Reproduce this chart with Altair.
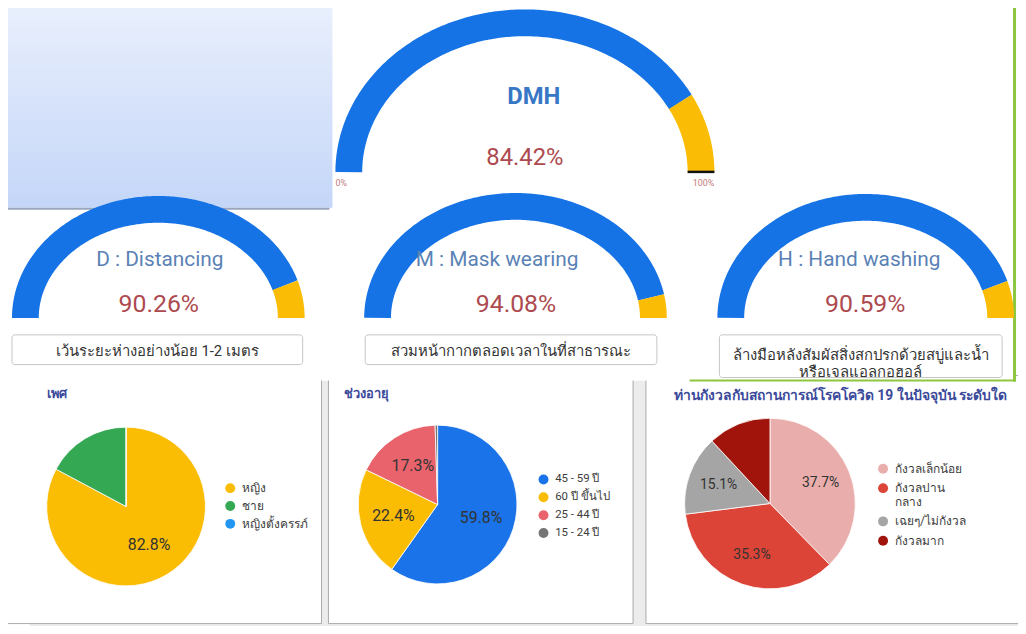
import math
import altair as alt
import pandas as pd

# ---------------- data ----------------
gauge_names = ["DMH", "D : Distancing", "M : Mask wearing", "H : Hand washing"]
gauge_values = [84.42, 90.26, 94.08, 90.59]
gauge_captions = ["",
                  "เว้นระยะห่างอย่างน้อย 1-2 เมตร",
                  "สวมหน้ากากตลอดเวลาในที่สาธารณะ",
                  "ล้างมือหลังสัมผัสสิ่งสกปรกด้วยสบู่และน้ำ\nหรือเจลแอลกอฮอล์"]
gauge_ends = ["0%", "100%"]

panel_titles = ["เพศ", "ช่วงอายุ", "ท่านกังวลกับสถานการณ์โรคโควิด 19 ในปัจจุบัน ระดับใด"]

sex_cats = ["หญิง", "ชาย", "หญิงตั้งครรภ์"]
sex_vals = [82.8, 17.2, 0.0]
sex_shown = ["82.8%", "", ""]

age_cats = ["45 - 59 ปี", "60 ปี ขึ้นไป", "25 - 44 ปี", "15 - 24 ปี"]
age_vals = [59.8, 22.4, 17.3, 0.5]
age_shown = ["59.8%", "22.4%", "17.3%", ""]

worry_cats = ["กังวลเล็กน้อย", "กังวลปานกลาง", "เฉยๆ/ไม่กังวล", "กังวลมาก"]
worry_vals = [37.7, 35.3, 15.1, 11.9]
worry_shown = ["37.7%", "35.3%", "15.1%", ""]

# ---------------- styles ----------------
BLUE = "#1673e6"
YELLOW = "#fbbc05"
VAL_COLOR = "#ad4a4f"
TITLE_COLOR = "#5a82b5"
sex_colors = ["#fbbc04", "#34a853", "#2196f3"]
age_colors = ["#1a73e8", "#fbbc04", "#e8636c", "#757575"]
worry_colors = ["#e9aeab", "#db4437", "#a5a5a5", "#a0140c"]
FONT = "Roboto"
OFF = 8


def px(v):
    return v - OFF


ONE = alt.Data(values=[{"k": 0}])


def rect(x0, x1, y0, y1, **kw):
    return alt.Chart(ONE).mark_rect(**kw).encode(
        x=alt.value(px(x0)), x2=alt.value(px(x1)),
        y=alt.value(px(y0)), y2=alt.value(px(y1)))


def text(s, x, y, **kw):
    kw.setdefault("font", FONT)
    return alt.Chart(pd.DataFrame({"t": [s]})).mark_text(lineBreak="\n", **kw).encode(
        x=alt.value(px(x)), y=alt.value(px(y)), text="t:N")


def gauge(value, cx, a_out, top, cut, thick=27):
    a = a_out - thick / 2
    b = (cut - top) - thick / 2
    xs = alt.Scale(domain=[-1, 1], range=[px(cx) - a, px(cx) + a], nice=False, zero=False)
    ys = alt.Scale(domain=[0, 1], range=[px(cut), px(cut) - b], nice=False, zero=False)
    out = []
    for f0, f1, col in [(0, value, BLUE), (value, 100, YELLOW)]:
        ch = (alt.Chart(alt.sequence(0, 201, 1, as_="k"))
              .transform_calculate(f=f"({f0} + ({f1} - {f0}) * datum.k / 200) / 100")
              .transform_calculate(ux="cos(PI * (1 - datum.f))", uy="sin(PI * (1 - datum.f))")
              .mark_line(color=col, strokeWidth=thick, strokeCap="butt", strokeJoin="round")
              .encode(x=alt.X("ux:Q", scale=xs, axis=None),
                      y=alt.Y("uy:Q", scale=ys, axis=None),
                      order="k:Q"))
        out.append(ch)
    return out


def pie(cats, vals, shown, colors, cx, cy, r, lab_r, lab_size, legend_kw):
    df = pd.DataFrame({"cat": cats, "v": vals, "lab": shown, "i": list(range(len(cats)))})
    base = alt.Chart(df).encode(
        theta=alt.Theta("v:Q", stack=True),
        order=alt.Order("i:Q"),
        x=alt.value(px(cx)), y=alt.value(px(cy)))
    lk = dict(orient="none", symbolType="circle", symbolSize=100, symbolStrokeWidth=0,
              labelFont=FONT, labelColor="#3c3c3c", labelOffset=6, padding=0,
              title=None)
    lk.update(legend_kw)
    arc = base.mark_arc(radius=r, stroke="white", strokeWidth=0.8).encode(
        color=alt.Color("cat:N", scale=alt.Scale(domain=cats, range=colors), sort=cats,
                        legend=alt.Legend(**lk)))
    txt = base.mark_text(radius=lab_r, fontSize=lab_size, color="#333333", font=FONT).encode(
        text="lab:N", detail="cat:N")
    return [arc, txt]


layers = []

# bottom area background and panels
layers.append(rect(30, 1040, 381, 640, color="#ececec"))
layers.append(rect(-20, 324, 376, 626, fill="white", stroke="#aaaaaa", strokeWidth=1))
layers.append(rect(331, 638, 376, 626, fill="white", stroke="#aaaaaa", strokeWidth=1))
layers.append(rect(651, 1040, 376, 626, fill="white", stroke="#aaaaaa", strokeWidth=1))
layers.append(rect(-20, 1021, -20, 381, color="white"))

# decorative borders
layers.append(rect(1021, 1024, -20, 382, color="#8dc63f"))
layers.append(rect(695, 1024, 380, 382, color="#8dc63f"))
layers.append(rect(-20, 335, -20, 207, color=alt.LinearGradient(
    gradient="linear", x1=0, x2=0, y1=0, y2=1,
    stops=[alt.GradientStop(color="#edf2fd", offset=0),
           alt.GradientStop(color="#c4d6f8", offset=1)])))
layers.append(rect(-20, 332, 207, 209, color="#9aa6bb"))

# gauges
layers += gauge(gauge_values[0], 529, 191, 7, 171)
layers += gauge(gauge_values[1], 159.5, 147.5, 195, 318)
layers += gauge(gauge_values[2], 519.5, 152.5, 192, 318)
layers += gauge(gauge_values[3], 872.5, 149.5, 193, 318)
layers.append(rect(693, 720, 169.5, 172, color="#111111"))

# gauge texts
layers.append(text(gauge_names[0], 538, 95, fontSize=24, fontWeight="bold", color="#3877c5"))
layers.append(text(f"{gauge_values[0]:.2f}%", 529, 157, fontSize=24, color=VAL_COLOR))
layers.append(text(gauge_ends[0], 338, 182, fontSize=9, align="left", color="#c27a7a"))
layers.append(text(gauge_ends[1], 720, 182, fontSize=9, align="right", color="#c27a7a"))

title_pos = [(161, 260), (501, 260), (866, 260)]
val_pos = [(160, 304), (520, 304), (872, 304)]
for k in range(3):
    layers.append(text(gauge_names[k + 1], *title_pos[k], fontSize=21, color=TITLE_COLOR))
    layers.append(text(f"{gauge_values[k + 1]:.2f}%", *val_pos[k], fontSize=25, color=VAL_COLOR))

# caption boxes
boxes = [(12, 305, 335, 365), (368, 662, 335, 365), (725, 1010, 335, 378)]
cap_y = [351, 351, 355]
for k, (x0, x1, y0, y1) in enumerate(boxes):
    layers.append(rect(x0, x1, y0, y1, fill="white", stroke="#c4c4c4", strokeWidth=1,
                       cornerRadius=3))
    layers.append(text(gauge_captions[k + 1], (x0 + x1) / 2, cap_y[k],
                       fontSize=15, color="#333333", lineHeight=17))

# panel titles
for s, (x, y), fs in zip(panel_titles, [(47, 395), (347, 395), (679, 397)], [13, 13, 14]):
    layers.append(text(s, x, y, fontSize=fs, fontWeight="bold", align="left", color="#3b4a9a"))

# pies
layers += pie(sex_cats, sex_vals, sex_shown, sex_colors, 127, 508, 80, 45, 16,
              dict(legendX=px(226), legendY=px(483.5), labelFontSize=12, rowPadding=6))
layers += pie(age_cats, age_vals, age_shown, age_colors, 441, 506, 80, 46, 16,
              dict(legendX=px(542), legendY=px(475), labelFontSize=11.5, rowPadding=5))
wrap_target = worry_cats[1]
layers += pie(worry_cats, worry_vals, worry_shown, worry_colors, 776, 505, 86, 55, 14,
              dict(legendX=px(884), legendY=px(464), labelFontSize=12, rowPadding=7.5,
                   labelExpr=f"datum.label == '{wrap_target}' ? ['กังวลปาน', 'กลาง'] : datum.label"))

chart = (alt.layer(*layers)
         .resolve_scale(theta="independent", color="independent", x="independent", y="independent")
         .properties(width=1018, height=618, padding=0,
                     autosize=alt.AutoSizeParams(type="none"), background="white")
         .configure_view(strokeWidth=0))

chart.save("out.html", embed_options={"renderer": "svg", "actions": False})
